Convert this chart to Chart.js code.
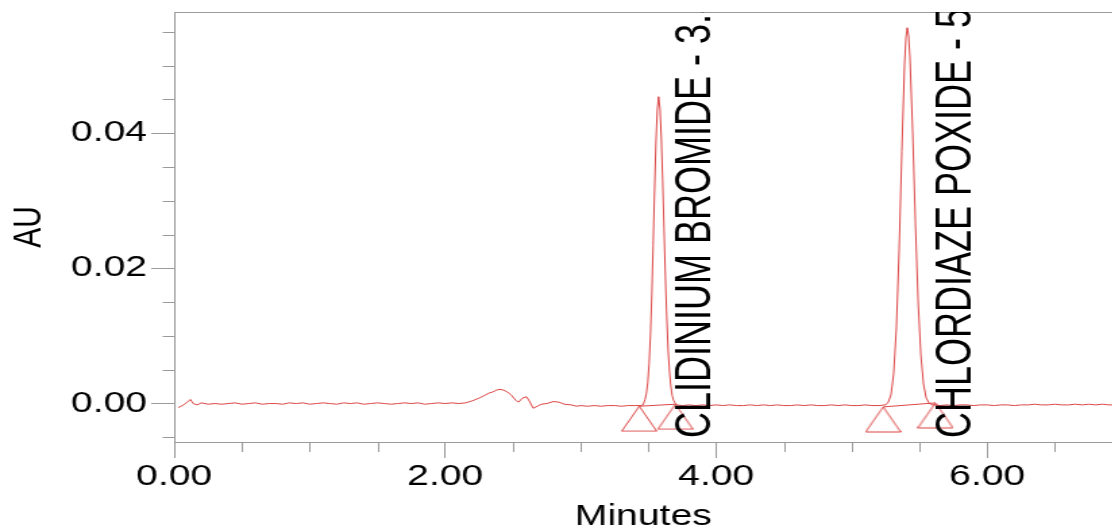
<!DOCTYPE html>
<html>
<head>
<meta charset="utf-8">
<script src="https://cdn.jsdelivr.net/npm/chart.js@4.4.1/dist/chart.umd.min.js"></script>
<style>
  html, body { margin: 0; padding: 0; background: #fff; overflow: hidden; }
  #chromatogram { display: block; transform: scaleX(1.35); transform-origin: 0 0; }
</style>
</head>
<body>
<canvas id="chromatogram" width="824" height="531"></canvas>
<script>
// detector trace, minutes / AU
const traceTime = [
  0.03, 0.06, 0.09, 0.12, 0.14, 0.17, 0.20, 0.25, 0.30, 0.35, 0.40, 0.45, 0.50, 0.55, 0.60,
  0.65, 0.70, 0.75, 0.80, 0.85, 0.90, 0.95, 1.00, 1.05, 1.10, 1.15, 1.20, 1.25, 1.30, 1.35,
  1.40, 1.45, 1.50, 1.55, 1.60, 1.65, 1.70, 1.75, 1.80, 1.85, 1.90, 1.95, 2.00, 2.05, 2.10,
  2.15, 2.20, 2.25, 2.30, 2.33, 2.35, 2.38, 2.40, 2.43, 2.46, 2.49, 2.52, 2.54, 2.57, 2.60,
  2.62, 2.65, 2.68, 2.71, 2.75, 2.80, 2.84, 2.88, 2.93, 2.97, 3.00, 3.05, 3.10, 3.15, 3.20,
  3.25, 3.30, 3.35, 3.40, 3.44, 3.46, 3.475, 3.485, 3.495, 3.505, 3.515, 3.525, 3.535, 3.545,
  3.555, 3.565, 3.575, 3.585, 3.595, 3.605, 3.615, 3.625, 3.635, 3.645, 3.655, 3.665, 3.675,
  3.685, 3.695, 3.71, 3.75, 3.80, 3.85, 3.90, 3.95, 4.00, 4.05, 4.10, 4.15, 4.20, 4.25, 4.30,
  4.35, 4.40, 4.45, 4.50, 4.55, 4.60, 4.65, 4.70, 4.75, 4.80, 4.85, 4.90, 4.95, 5.00, 5.05,
  5.10, 5.15, 5.20, 5.25, 5.27, 5.29, 5.31, 5.33, 5.35, 5.37, 5.39, 5.40, 5.41, 5.42, 5.43,
  5.45, 5.47, 5.49, 5.51, 5.53, 5.55, 5.57, 5.59, 5.62, 5.65, 5.70, 5.75, 5.80, 5.85, 5.90,
  5.95, 6.00, 6.05, 6.10, 6.15, 6.20, 6.25, 6.30, 6.35, 6.40, 6.45, 6.50, 6.55, 6.60, 6.65,
  6.70, 6.75, 6.80, 6.85, 6.90, 6.93
];
const traceAU = [
  -0.0006, -0.0003, 0.0001, 0.0006, 0.0000, -0.0002, 0.0001, -0.0001, 0.0000, -0.0001, 0.0000, 0.0001, -0.0001, 0.0000, 0.0001,
  -0.0001, 0.0000, 0.0000, -0.0001, 0.0001, 0.0000, 0.0001, -0.0001, 0.0000, 0.0001, 0.0000, -0.0001, 0.0001, 0.0000, 0.0001,
  -0.0001, 0.0000, 0.0001, 0.0000, -0.0001, 0.0000, 0.0001, 0.0000, 0.0001, -0.0001, 0.0000, 0.0001, 0.0000, 0.0001, 0.0000,
  0.0001, 0.0004, 0.0008, 0.0013, 0.0016, 0.0017, 0.0020, 0.0021, 0.0020, 0.0017, 0.0012, 0.0005, 0.0002, 0.0008, 0.0010,
  0.0004, -0.0007, -0.0004, -0.0001, 0.0000, 0.0003, 0.0002, -0.0001, -0.0002, -0.0004, -0.0003, -0.0004, -0.0003, -0.0004, -0.0003,
  -0.0003, -0.0004, -0.0003, -0.0003, -0.0003, -0.0002, 0.0006, 0.0015, 0.0031, 0.0059, 0.0102, 0.0161, 0.0234, 0.0313,
  0.0384, 0.0434, 0.0454, 0.0437, 0.0393, 0.0330, 0.0259, 0.0189, 0.0129, 0.0081, 0.0048, 0.0026, 0.0012,
  0.0005, 0.0001, -0.0002, -0.0003, -0.0002, -0.0003, -0.0002, -0.0003, -0.0002, -0.0003, -0.0002, -0.0003, -0.0003, -0.0002, -0.0003,
  -0.0002, -0.0003, -0.0002, -0.0003, -0.0003, -0.0002, -0.0003, -0.0002, -0.0003, -0.0003, -0.0002, -0.0003, -0.0002, -0.0003, -0.0003,
  -0.0002, -0.0003, -0.0003, -0.0002, 0.0002, 0.0013, 0.0045, 0.0112, 0.0227, 0.0373, 0.0502, 0.0541, 0.0556, 0.0544, 0.0511,
  0.0402, 0.0269, 0.0152, 0.0073, 0.0029, 0.0008, 0.0001, -0.0002, -0.0002, -0.0003, -0.0002, -0.0003, -0.0002, -0.0002, -0.0003,
  -0.0002, -0.0002, -0.0003, -0.0002, -0.0002, -0.0003, -0.0002, -0.0002, -0.0001, -0.0002, -0.0002, -0.0001, -0.0002, -0.0002, -0.0001,
  -0.0002, -0.0001, -0.0002, -0.0001, -0.0002, -0.0002
];

// integrated peaks
const peakNames = ['CLIDINIUM BROMIDE', 'CHLORDIAZE POXIDE'];
const peakApexTime = [3.575, 5.410];
const peakStartTime = [3.432, 5.232];
const peakStartAU = [-0.0004, -0.0005];
const peakEndTime = [3.698, 5.618];
const peakEndAU = [-0.0001, 0.0001];

const xTickValues = [0, 2, 4, 6];
const xMinorTicks = [0.5, 1, 1.5, 2.5, 3, 3.5, 4.5, 5, 5.5, 6.5];
const yTickValues = [0, 0.02, 0.04];
const yMinorTicks = [-0.005, 0.005, 0.01, 0.015, 0.025, 0.03, 0.035, 0.045, 0.05, 0.055];

const traceRed = 'rgba(214, 38, 38, 0.85)';
const axisGray = '#9a9a9a';
const fontFamily = '"Liberation Sans", Arial, sans-serif';

// open triangle whose apex sits on the point itself
function makeMarker() {
  const c = document.createElement('canvas');
  c.width = 27;
  c.height = 52;
  const g = c.getContext('2d');
  g.strokeStyle = traceRed;
  g.lineWidth = 1;
  g.beginPath();
  g.moveTo(13.5, 26);
  g.lineTo(0.5, 51);
  g.lineTo(26.5, 51);
  g.closePath();
  g.stroke();
  return c;
}

const markerData = [];
peakStartTime.forEach((t, i) => {
  if (i > 0) markerData.push({ x: (peakEndTime[i - 1] + t) / 2, y: null });
  markerData.push({ x: t, y: peakStartAU[i] });
  markerData.push({ x: peakEndTime[i], y: peakEndAU[i] });
});

// keep the plot box where the axes put it, no extra room for edge labels
function noEdgePadding(s) {
  s.paddingTop = 0;
  s.paddingBottom = 0;
  s.paddingLeft = 0;
  s.paddingRight = 0;
}

const minorTicks = {
  id: 'minorTicks',
  afterDraw(chart) {
    const { ctx, chartArea, scales: { x, y } } = chart;
    ctx.save();
    ctx.strokeStyle = axisGray;
    ctx.lineWidth = 1;
    ctx.beginPath();
    yMinorTicks.forEach(v => {
      const py = Math.round(y.getPixelForValue(v)) + 0.5;
      ctx.moveTo(chartArea.left - 8.5, py);
      ctx.lineTo(chartArea.left, py);
    });
    xMinorTicks.forEach(v => {
      const px = Math.round(x.getPixelForValue(v)) + 0.5;
      ctx.moveTo(px, chartArea.bottom);
      ctx.lineTo(px, chartArea.bottom + 10);
    });
    ctx.stroke();
    ctx.restore();
  }
};

const peakLabels = {
  id: 'peakLabels',
  afterDatasetsDraw(chart) {
    const { ctx, chartArea, scales: { x } } = chart;
    ctx.save();
    ctx.beginPath();
    ctx.rect(chartArea.left, chartArea.top, chartArea.right - chartArea.left, chartArea.bottom - chartArea.top);
    ctx.clip();
    ctx.fillStyle = '#000';
    ctx.font = '36px ' + fontFamily;
    ctx.textAlign = 'left';
    ctx.textBaseline = 'alphabetic';
    peakNames.forEach((name, i) => {
      ctx.save();
      ctx.translate(x.getPixelForValue(peakEndTime[i]) + 26, chartArea.bottom - 4);
      ctx.rotate(-Math.PI / 2);
      ctx.fillText(name + ' - ' + peakApexTime[i].toFixed(3), 0, 0);
      ctx.restore();
    });
    ctx.restore();
  }
};

const tickFont = { family: fontFamily, size: 29 };

new Chart(document.getElementById('chromatogram'), {
  type: 'line',
  data: {
    datasets: [
      {
        data: traceTime.map((t, i) => ({ x: t, y: traceAU[i] })),
        borderColor: traceRed,
        borderWidth: 1,
        pointRadius: 0,
        tension: 0
      },
      {
        data: markerData,
        borderColor: traceRed,
        borderWidth: 1,
        pointRadius: 1,
        pointStyle: makeMarker(),
        spanGaps: false
      }
    ]
  },
  options: {
    responsive: false,
    animation: false,
    layout: { autoPadding: false, padding: { top: 12, left: 0, right: 0, bottom: 0 } },
    plugins: {
      legend: { display: false },
      tooltip: { enabled: false }
    },
    scales: {
      x: {
        type: 'linear',
        position: 'bottom',
        min: 0,
        max: 6.924,
        afterFit: s => { s.height = 89; noEdgePadding(s); },
        afterBuildTicks: s => { s.ticks = xTickValues.map(v => ({ value: v })); },
        grid: { drawOnChartArea: false, drawTicks: true, tickLength: 16, tickColor: axisGray, tickWidth: 1 },
        border: { display: true, color: axisGray, width: 1 },
        ticks: { font: tickFont, color: '#000', padding: 2, maxRotation: 0, autoSkip: false, callback: v => v.toFixed(2) },
        title: { display: true, text: 'Minutes', font: tickFont, color: '#000', padding: { top: 0, bottom: -3 } }
      },
      xTop: {
        type: 'linear',
        position: 'top',
        min: 0,
        max: 6.924,
        afterFit: s => { s.height = 0; noEdgePadding(s); },
        grid: { display: false, drawTicks: false },
        border: { display: true, color: axisGray, width: 1 },
        ticks: { display: false }
      },
      y: {
        type: 'linear',
        min: -0.00569,
        max: 0.05793,
        afterFit: s => { s.width = 129; noEdgePadding(s); },
        afterBuildTicks: s => { s.ticks = yTickValues.map(v => ({ value: v })); },
        grid: { drawOnChartArea: false, drawTicks: true, tickLength: 17, tickColor: axisGray, tickWidth: 1 },
        border: { display: true, color: axisGray, width: 1 },
        ticks: { font: tickFont, color: '#000', padding: 3, callback: v => v.toFixed(2) },
        title: { display: true, text: 'AU', font: { family: fontFamily, size: 30 }, color: '#000', padding: { top: 4, bottom: 0 } }
      }
    }
  },
  plugins: [minorTicks, peakLabels]
});
</script>
</body>
</html>
